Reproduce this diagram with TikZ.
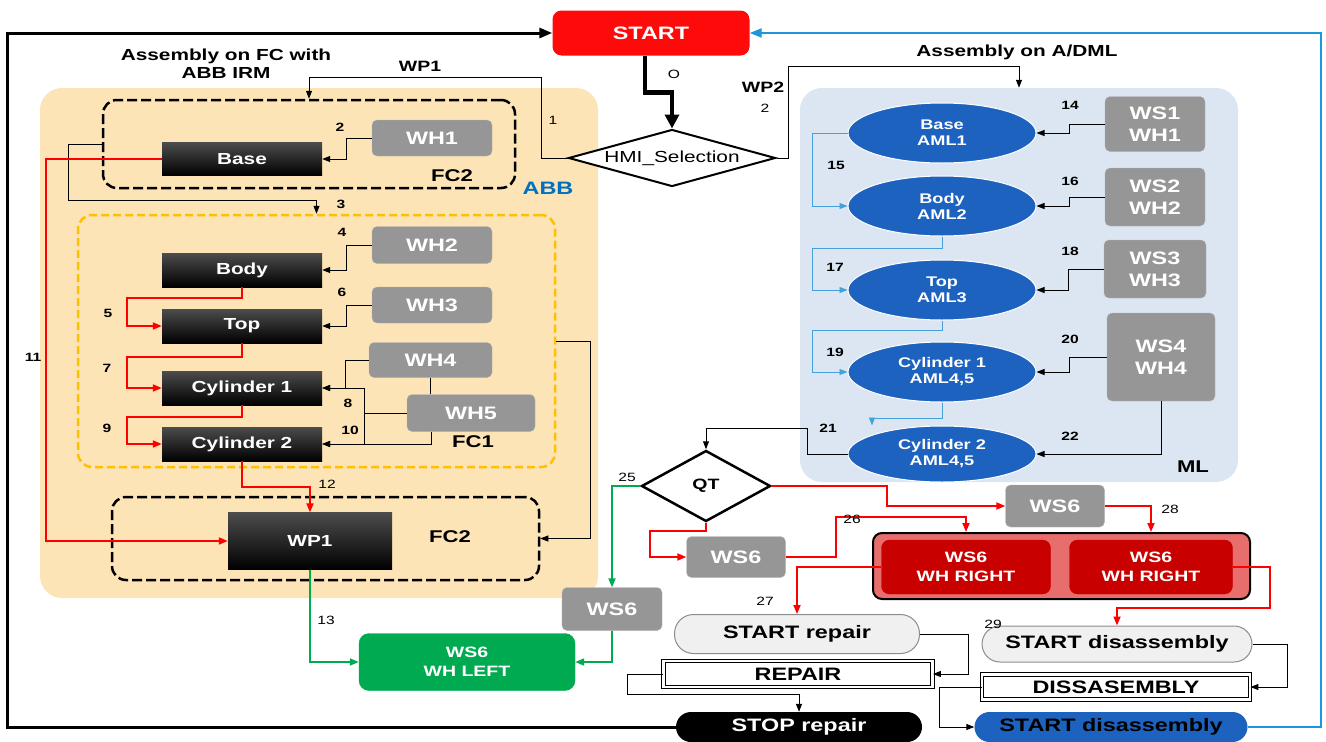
\documentclass[tikz,border=0pt]{standalone}
\usepackage{fontspec}
\setmainfont{Liberation Sans}[FakeStretch=1.3]
\usetikzlibrary{shapes.geometric,arrows.meta}

\definecolor{abbfill}{RGB}{252,228,182}
\definecolor{fcone}{RGB}{255,192,0}
\definecolor{whgray}{RGB}{150,150,150}
\definecolor{mlfill}{RGB}{220,230,243}
\definecolor{amlblue}{RGB}{28,98,190}
\definecolor{thinblue}{RGB}{70,160,220}
\definecolor{loopblue}{RGB}{30,150,220}
\definecolor{wsgreen}{RGB}{0,170,80}
\definecolor{rightred}{RGB}{200,0,0}
\definecolor{boxred}{RGB}{232,110,110}
\definecolor{startred}{RGB}{255,10,10}
\definecolor{abbblue}{RGB}{0,112,192}

\tikzset{
  procbox/.style={top color=black!70, bottom color=black, text=white,
    font=\bfseries\fontsize{16}{16}\selectfont,
    minimum width=160pt, minimum height=34pt, inner sep=0pt},
  whbox/.style={fill=whgray, draw=whgray!70, rounded corners=5pt, text=white,
    font=\bfseries\fontsize{18}{22}\selectfont, align=center, inner sep=0pt},
  amlnode/.style={ellipse, fill=amlblue, draw=white, line width=1pt, text=white,
    font=\bfseries\fontsize{14}{16}\selectfont, align=center,
    minimum width=188pt, minimum height=60pt, inner sep=0pt},
  fcbox/.style={draw=black, line width=2.5pt, rounded corners=14pt,
    dash pattern=on 10pt off 4pt, inner sep=0pt},
  bgregion/.style={rounded corners=22pt, inner sep=0pt},
  lbl/.style={font=\bfseries\fontsize{17}{17}\selectfont, inner sep=0pt},
  numlbl/.style={font=\fontsize{12}{12}\selectfont, inner sep=0pt},
  numbold/.style={font=\bfseries\fontsize{12}{12}\selectfont, inner sep=0pt},
  decision/.style={diamond, draw=black, line width=2pt, fill=white, inner sep=0pt},
  dblbox/.style={draw=black, double=white, double distance=2.5pt, line width=0.8pt,
    fill=white, font=\bfseries\fontsize{18}{18}\selectfont, inner sep=0pt},
  termnode/.style={rounded corners=15pt, font=\bfseries\fontsize{18}{18}\selectfont,
    inner sep=0pt},
  blkarrow/.style={draw=black, line width=1pt, -{Triangle[length=8pt,width=6pt]}},
  redarrow/.style={draw=red, line width=1.8pt, -{Triangle[length=9pt,width=7pt]}},
  grnarrow/.style={draw=wsgreen, line width=1.8pt, -{Triangle[length=9pt,width=7pt]}},
  bluarrow/.style={draw=thinblue, line width=0.8pt, -{Triangle[length=8pt,width=6pt]}}
}

\begin{document}
\begin{tikzpicture}[x=1pt,y=-1pt]
  \useasboundingbox (0,0) rectangle (1326,742);
  \fill[white] (0,0) rectangle (1326,742);

  % backgrounds
  \node[bgregion, fill=abbfill, minimum width=558pt, minimum height=510pt] (abbreg) at (319,343) {};
  \node[bgregion, fill=mlfill, minimum width=438pt, minimum height=394pt] (mlreg) at (1019,285) {};
  \node[fcbox, minimum width=412pt, minimum height=88pt] (fc2a) at (309,144) {};
  \node[fcbox, draw=fcone, dash pattern=on 8pt off 4pt, minimum width=477pt, minimum height=252pt] (fc1) at (316.5,341) {};
  \node[fcbox, minimum width=427pt, minimum height=83pt] (fc2b) at (325.5,538.5) {};

  % titles
  \node[lbl, font=\bfseries\fontsize{16}{18}\selectfont, align=center] (asmfc) at (226,64) {Assembly on FC with\\ABB IRM};
  \node[lbl, font=\bfseries\fontsize{16}{16}\selectfont] (asmml) at (1017,52) {Assembly on A/DML};
  \node[lbl, font=\bfseries\fontsize{15}{15}\selectfont] (wp1lbl) at (420,66) {WP1};
  \node[lbl, font=\bfseries\fontsize{15}{15}\selectfont] (wp2lbl) at (763,87) {WP2};
  \node[lbl, text=abbblue, font=\bfseries\fontsize{18}{18}\selectfont] (abblbl) at (548,188) {ABB};
  \node[lbl] (fc2albl) at (452,176) {FC2};
  \node[lbl] (fc1lbl) at (473,442) {FC1};
  \node[lbl] (fc2blbl) at (450,537) {FC2};
  \node[lbl] (mllbl) at (1193,467) {ML};

  % start and selection
  \node[termnode, fill=startred, text=white, rounded corners=9pt, minimum width=197pt, minimum height=45pt] (start) at (651,33) {START};
  \node[decision, aspect=3.6, minimum width=207pt, minimum height=57pt, font=\fontsize{16}{16}\selectfont] (hmi) at (672,158) {HMI\_Selection};

  % assembly on FC
  \node[procbox, minimum height=33pt] (base) at (242,159) {Base};
  \node[procbox] (body) at (242,270) {Body};
  \node[procbox] (top) at (242,326) {Top};
  \node[procbox] (cyl1) at (242,388) {Cylinder 1};
  \node[procbox] (cyl2) at (242,444) {Cylinder 2};
  \node[procbox, minimum width=164pt, minimum height=57pt] (wp1) at (310,541) {WP1};
  \node[whbox, minimum width=120pt, minimum height=36pt] (wh1) at (432,138) {WH1};
  \node[whbox, minimum width=120pt, minimum height=37pt] (wh2) at (432,245) {WH2};
  \node[whbox, minimum width=120pt, minimum height=36pt] (wh3) at (432,305) {WH3};
  \node[whbox, minimum width=123pt, minimum height=35pt] (wh4) at (430.5,360) {WH4};
  \node[whbox, minimum width=128pt, minimum height=37pt] (wh5) at (471,413) {WH5};
  \node[whbox, fill=wsgreen, draw=wsgreen, rounded corners=10pt, minimum width=216pt, minimum height=57pt,
    font=\bfseries\fontsize{15}{19}\selectfont] (whleft) at (467,662) {WS6\\WH LEFT};
  \node[whbox, minimum width=100pt, minimum height=43pt] (ws6c) at (612,609) {WS6};

  % assembly on A/DML
  \node[amlnode] (baseaml) at (942,133) {Base\\AML1};
  \node[amlnode] (bodyaml) at (942,206) {Body\\AML2};
  \node[amlnode] (topaml) at (942,290) {Top\\AML3};
  \node[amlnode] (cyl1aml) at (942,372) {Cylinder 1\\AML4,5};
  \node[amlnode, minimum height=56pt] (cyl2aml) at (942,454) {Cylinder 2\\AML4,5};
  \node[whbox, minimum width=100pt, minimum height=55pt] (ws1) at (1155,124) {WS1\\WH1};
  \node[whbox, minimum width=100pt, minimum height=58pt] (ws2) at (1155,197) {WS2\\WH2};
  \node[whbox, minimum width=102pt, minimum height=58pt] (ws3) at (1155,269) {WS3\\WH3};
  \node[whbox, minimum width=108pt, minimum height=88pt] (ws4) at (1161,357) {WS4\\WH4};

  % quality test
  \node[decision, line width=2.5pt, aspect=1.8, minimum width=129pt, minimum height=71pt,
    font=\bfseries\fontsize{15}{15}\selectfont] (qt) at (706,486) {QT};
  \node[whbox, minimum width=99pt, minimum height=42pt] (ws6a) at (1055,506) {WS6};
  \node[whbox, minimum width=99pt, minimum height=41pt] (ws6b) at (736,557) {WS6};
  \node[draw=black, line width=2pt, fill=boxred, rounded corners=9pt, minimum width=377pt,
    minimum height=66pt, inner sep=0pt] (rcont) at (1061.5,566) {};
  \node[whbox, fill=rightred, draw=rightred, rounded corners=8pt, minimum width=169pt, minimum height=54pt,
    font=\bfseries\fontsize{15}{19}\selectfont] (wr1) at (966,567) {WS6\\WH RIGHT};
  \node[whbox, fill=rightred, draw=rightred, rounded corners=8pt, minimum width=163pt, minimum height=54pt,
    font=\bfseries\fontsize{15}{19}\selectfont] (wr2) at (1151,567) {WS6\\WH RIGHT};

  % repair and disassembly
  \node[termnode, fill=black!6, draw=black!45, line width=1pt, rounded corners=19pt, minimum width=245pt,
    minimum height=39pt] (startrep) at (797,634) {START repair};
  \node[termnode, fill=black!6, draw=black!45, line width=1pt, rounded corners=18pt, minimum width=270pt,
    minimum height=36pt] (startdis) at (1117,644) {START disassembly};
  \node[dblbox, minimum width=269pt, minimum height=26pt] (repair) at (798,674) {REPAIR};
  \node[dblbox, minimum width=268pt, minimum height=25pt] (disasm) at (1116,687) {DISSASEMBLY};
  \node[termnode, fill=black, text=white, minimum width=246pt, minimum height=30pt] (stoprep) at (799,727) {STOP repair};
  \node[termnode, fill=amlblue, text=black, minimum width=273pt, minimum height=30pt] (startdisb) at (1111,727) {START disassembly};

  % outer loops
  \coordinate (lcorner) at (7,33);
  \coordinate (rcorner) at (1321,33);
  \draw[line width=3pt, -{Triangle[length=13pt,width=10pt]}] (stoprep.west) -| (lcorner) -- (start.west);
  \draw[draw=loopblue, line width=2pt, -{Triangle[length=12pt,width=9pt]}] (startdisb.east) -| (rcorner) -- (start.east);
  \draw[line width=4.5pt, -{Triangle[length=14pt,width=14pt]}] ([xshift=-6pt]start.south) -- ++(0,37) -| (hmi.north);

  % selection
  \draw[blkarrow] (hmi.west) -- ++(-26,0) -- ++(0,-81) -| (fc2a.north);
  \draw[blkarrow] (hmi.east) -- ++(12,0) -- ++(0,-92) -| (mlreg.north);

  % FC cell
  \draw[blkarrow] (fc2a.west) -- ++(-33,0) -- ++(0,56) -| (fc1.north);
  \draw[blkarrow] (wh1.west) -- ++(-25,0) |- (base.east);
  \draw[blkarrow] (wh2.west) -- ++(-25,0) |- (body.east);
  \draw[blkarrow] (wh3.west) -- ++(-25,0) |- (top.east);
  \draw[blkarrow] (wh4.west) -- ++(-23,0) |- (cyl1.east);
  \draw[blkarrow] (wh5.west) -- ++(-42,0) |- (cyl1.east);
  \draw[blkarrow] (wh5.west) -- ++(-42,0) |- (cyl2.east);
  \draw[blkarrow] ([xshift=-40pt]wh5.south) |- (cyl2.east);
  \draw[line width=1pt] (wh4.south) -- (wh4.south |- wh5.north);
  \draw[blkarrow] (fc1.east) -- ++(34,0) |- (fc2b.east);
  \draw[redarrow] (base.west) -- ++(-116,0) |- (wp1.west);
  \draw[redarrow] (body.south) -- ++(0,11) -- ++(-115,0) |- (top.west);
  \draw[redarrow] (top.south) -- ++(0,14) -- ++(-115,0) |- (cyl1.west);
  \draw[redarrow] (cyl1.south) -- ++(0,12) -- ++(-115,0) |- (cyl2.west);
  \draw[redarrow] (cyl2.south) -- ++(0,26) -| (wp1.north);
  \draw[grnarrow] (wp1.south) |- (whleft.west);
  \draw[grnarrow] (ws6c.south) |- (whleft.east);
  \draw[grnarrow] (qt.west) -| (ws6c.north);

  % ML cell
  \draw[blkarrow] (ws1.west) -- ++(-35,0) |- (baseaml.east);
  \draw[blkarrow] (ws2.west) -- ++(-35,0) |- (bodyaml.east);
  \draw[blkarrow] (ws3.west) -- ++(-35,0) |- (topaml.east);
  \draw[blkarrow] (ws4.west) -- ++(-37,0) |- (cyl1aml.east);
  \draw[blkarrow] (ws4.south) |- (cyl2aml.east);
  \draw[bluarrow] (baseaml.west) -- ++(-35,0) |- (bodyaml.west);
  \draw[bluarrow] (bodyaml.south) -- ++(0,12) -- ++(-130,0) |- (topaml.west);
  \draw[bluarrow] (topaml.south) -- ++(0,10) -- ++(-130,0) |- (cyl1aml.west);
  \draw[bluarrow] (cyl1aml.south) -- ++(0,16) -| ([xshift=-70pt]cyl2aml.north);
  \draw[blkarrow] (cyl2aml.west) -- ++(-40,0) -- ++(0,-26) -| (qt.north);

  % test result
  \draw[redarrow] (qt.east) -- ++(115,0) |- (ws6a.west);
  \draw[redarrow] (qt.south) -- ++(0,8) -- ++(-56,0) |- (ws6b.west);
  \draw[redarrow] (ws6b.east) -- ++(50,0) -- ++(0,-40) -| (wr1.north |- rcont.north);
  \draw[redarrow] (ws6a.east) -- ++(46,0) -| (wr2.north |- rcont.north);
  \draw[redarrow] (wr1.west) -| (startrep.north);
  \draw[redarrow] (wr2.east) -- ++(37,0) -- ++(0,41) -| (startdis.north);
  \draw[blkarrow] (startrep.east) -- ++(48,0) |- (repair.east);
  \draw[blkarrow] (repair.west) -- ++(-36,0) -- ++(0,20) -| (stoprep.north);
  \draw[blkarrow] (startdis.east) -- ++(35,0) |- (disasm.east);
  \draw[blkarrow] (disasm.west) -- ++(-42,0) |- (startdisb.west);

  % step numbers
  \node[numlbl] (n0) at (674,74) {O};
  \node[numlbl] (n1) at (553,120) {1};
  \node[numlbl] (n2) at (765,108) {2};
  \node[numbold] (n2b) at (340,127) {2};
  \node[numbold] (n3) at (341,204) {3};
  \node[numbold] (n4) at (342,232) {4};
  \node[numbold] (n5) at (108,313) {5};
  \node[numbold] (n6) at (342,292) {6};
  \node[numbold] (n7) at (107,368) {7};
  \node[numbold] (n8) at (348,403) {8};
  \node[numbold] (n9) at (107,428) {9};
  \node[numbold] (n10) at (350,430) {10};
  \node[numbold] (n11) at (33,357) {11};
  \node[numlbl] (n12) at (327,484) {12};
  \node[numlbl] (n13) at (326,620) {13};
  \node[numbold] (n14) at (1070,105) {14};
  \node[numbold] (n15) at (836,165) {15};
  \node[numbold] (n16) at (1070,181) {16};
  \node[numbold] (n17) at (835,267) {17};
  \node[numbold] (n18) at (1070,251) {18};
  \node[numbold] (n19) at (835,352) {19};
  \node[numbold] (n20) at (1070,339) {20};
  \node[numbold] (n21) at (828,428) {21};
  \node[numbold] (n22) at (1070,436) {22};
  \node[numlbl] (n25) at (627,477) {25};
  \node[numlbl] (n26) at (852,519) {26};
  \node[numlbl] (n27) at (765,601) {27};
  \node[numlbl] (n28) at (1170,509) {28};
  \node[numlbl] (n29) at (993,624) {29};
\end{tikzpicture}
\end{document}
